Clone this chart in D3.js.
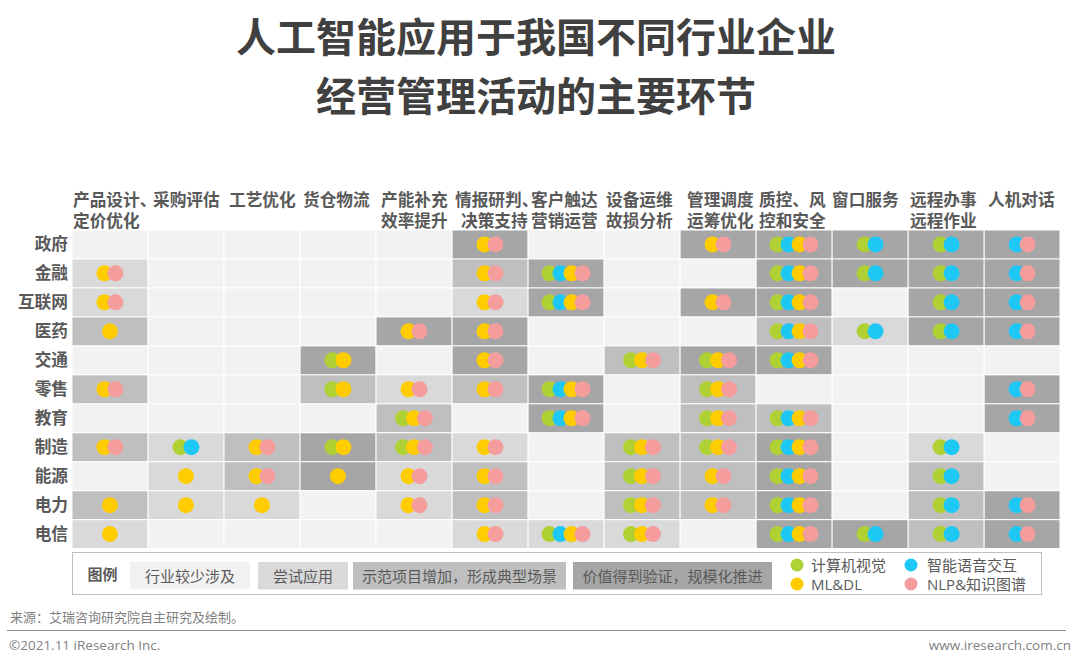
<!DOCTYPE html>
<html>
<head>
<meta charset="utf-8">
<script src="https://cdn.jsdelivr.net/npm/d3@7"></script>
<style>
  html, body { margin: 0; padding: 0; background: #fff; }
  text { font-family: "Open Sans", "Noto Sans CJK SC", sans-serif; }
  .cjk { font-family: "Noto Sans CJK SC", sans-serif; }
</style>
</head>
<body>
<svg id="chart" width="1080" height="664"></svg>
<script>
var titleLines = ["人工智能应用于我国不同行业企业", "经营管理活动的主要环节"];

var industries = ["政府", "金融", "互联网", "医药", "交通", "零售", "教育", "制造", "能源", "电力", "电信"];

// one entry per column, lines and their left edge
var columns = ["c0", "c1", "c2", "c3", "c4", "c5", "c6", "c7", "c8", "c9", "c10", "c11", "c12"];
var columnLabels = [
  ["产品设计、", "定价优化"], ["采购评估"], ["工艺优化"], ["货仓物流"], ["产能补充", "效率提升"],
  ["情报研判、", " 决策支持"], ["客户触达", "营销运营"], ["设备运维", "故损分析"], ["管理调度", "运筹优化"],
  ["质控、风", "控和安全"], ["窗口服务"], ["远程办事", "远程作业"], ["人机对话"]
];

// 0 = 行业较少涉及, 1 = 尝试应用, 2 = 示范项目, 3 = 规模化推进
var levels = [
  [0, 0, 0, 0, 0, 3, 0, 0, 3, 3, 3, 3, 3],
  [1, 0, 0, 0, 0, 2, 3, 0, 0, 3, 3, 3, 3],
  [1, 0, 0, 0, 0, 1, 3, 0, 3, 3, 0, 3, 3],
  [2, 0, 0, 0, 3, 3, 0, 0, 0, 2, 1, 3, 3],
  [0, 0, 0, 3, 0, 3, 0, 2, 3, 3, 0, 0, 0],
  [2, 0, 0, 2, 1, 2, 3, 0, 2, 0, 0, 0, 3],
  [0, 0, 0, 0, 2, 0, 3, 0, 2, 2, 0, 0, 3],
  [2, 1, 2, 3, 2, 1, 0, 2, 2, 3, 0, 1, 0],
  [0, 1, 2, 3, 1, 2, 0, 2, 2, 3, 0, 2, 0],
  [2, 1, 1, 0, 1, 2, 0, 2, 2, 3, 0, 2, 3],
  [1, 0, 0, 0, 0, 1, 1, 1, 0, 3, 3, 2, 3]
];

// G = 计算机视觉, B = 智能语音交互, Y = ML&DL, P = NLP&知识图谱
var techs = [
  ["", "", "", "", "", "YP", "", "", "YP", "GBYP", "GB", "GB", "BP"],
  ["YP", "", "", "", "", "YP", "GBYP", "", "", "GBYP", "GB", "GB", "BP"],
  ["YP", "", "", "", "", "YP", "GBYP", "", "YP", "GBYP", "", "GB", "BP"],
  ["Y", "", "", "", "YP", "YP", "", "", "", "GBYP", "GB", "GB", "BP"],
  ["", "", "", "GY", "", "YP", "", "GYP", "GYP", "GBYP", "", "", ""],
  ["YP", "", "", "GY", "YP", "YP", "GBYP", "", "GYP", "", "", "", "BP"],
  ["", "", "", "", "GYP", "", "GBYP", "", "GYP", "GBYP", "", "", "BP"],
  ["YP", "GB", "YP", "GY", "GYP", "YP", "", "GYP", "GYP", "GBYP", "", "GB", ""],
  ["", "Y", "YP", "Y", "YP", "YP", "", "GYP", "YP", "GBYP", "", "GB", ""],
  ["Y", "Y", "Y", "", "YP", "YP", "", "GYP", "YP", "GBYP", "", "GB", "BP"],
  ["Y", "", "", "", "", "YP", "GBYP", "GYP", "", "GBYP", "GB", "GB", "BP"]
];

var levelLabels = ["行业较少涉及", "尝试应用", "示范项目增加，形成典型场景", "价值得到验证，规模化推进"];
var levelColors = ["#f2f2f2", "#d9d9d9", "#bfbfbf", "#a6a6a6"];

var techKeys = ["G", "B", "Y", "P"];
var techLabels = ["计算机视觉", "智能语音交互", "ML&DL", "NLP&知识图谱"];
var techColors = ["#afd133", "#1ec8f5", "#ffcc00", "#f59c9c"];

var svg = d3.select("#chart");
var textColor = "#595959";

var x = d3.scaleBand().domain(columns).range([72.5, 1059.5]).paddingInner(0.016);
var y = d3.scaleBand().domain(industries).range([230.5, 548]).paddingInner(0.04);
var color = d3.scaleOrdinal().domain(d3.range(4)).range(levelColors);
var techColor = d3.scaleOrdinal().domain(techKeys).range(techColors);

// title
svg.selectAll(".title").data(titleLines).join("text")
  .attr("class", "title cjk")
  .attr("x", 536)
  .attr("y", (d, i) => 52 + i * 59)
  .attr("text-anchor", "middle")
  .attr("font-size", 40)
  .attr("font-weight", 700)
  .attr("fill", "#404040")
  .text(d => d);

// column headers, their left edges do not quite follow the cells
var headerLeft = [73, 153, 229, 303, 381, 455, 531, 606, 687, 759, 832, 910, 988];
columnLabels.forEach((lines, c) => {
  var label = svg.append("text")
    .attr("class", "cjk")
    .attr("font-size", 16.7)
    .attr("font-weight", 700)
    .attr("fill", textColor);
  lines.forEach((line, i) => {
    label.append("tspan")
      .attr("x", headerLeft[c] + (line[0] == " " ? 6 : 0))
      .attr("y", 206 + i * 20.5)
      .text(line.trim());
  });
});

// row labels
svg.selectAll(".row-label").data(industries).join("text")
  .attr("class", "row-label cjk")
  .attr("x", 68)
  .attr("y", d => y(d) + y.bandwidth() / 2 + 6)
  .attr("text-anchor", "end")
  .attr("font-size", 16.7)
  .attr("font-weight", 700)
  .attr("fill", textColor)
  .text(d => d);

// cells and dots
var dotStep = d3.scalePoint().domain(d3.range(4)).range([0, 33]);
industries.forEach((name, r) => {
  columns.forEach((col, c) => {
    svg.append("rect")
      .attr("x", x(col))
      .attr("y", y(name))
      .attr("width", x.bandwidth())
      .attr("height", y.bandwidth())
      .attr("fill", color(levels[r][c]));

    var keys = techs[r][c].split("");
    var cx = x(col) + x.bandwidth() / 2;
    var offset = dotStep(keys.length - 1) / 2;
    keys.forEach((k, i) => {
      svg.append("circle")
        .attr("cx", cx - offset + dotStep(i))
        .attr("cy", y(name) + y.bandwidth() / 2)
        .attr("r", 8)
        .attr("fill", techColor(k));
    });
  });
});

// legend
svg.append("rect")
  .attr("x", 72.5).attr("y", 552.5)
  .attr("width", 969).attr("height", 42)
  .attr("fill", "#fff")
  .attr("stroke", "#bfbfbf");

svg.append("text")
  .attr("class", "cjk")
  .attr("x", 87.5).attr("y", 580)
  .attr("font-size", 15).attr("font-weight", 700)
  .attr("fill", textColor)
  .text("图例");

var swatchLeft = [130, 258, 353, 573];
var swatchRight = [250, 348, 566, 772];
levelLabels.forEach((label, i) => {
  svg.append("rect")
    .attr("x", swatchLeft[i]).attr("y", 562)
    .attr("width", swatchRight[i] - swatchLeft[i]).attr("height", 27.5)
    .attr("fill", levelColors[i]);
  svg.append("text")
    .attr("class", "cjk")
    .attr("x", (swatchLeft[i] + swatchRight[i]) / 2).attr("y", 581.5)
    .attr("text-anchor", "middle")
    .attr("font-size", 15)
    .attr("fill", textColor)
    .text(label);
});

var legendX = [797, 911];
var legendY = [565, 584];
techLabels.forEach((label, i) => {
  var lx = legendX[i % 2], ly = legendY[i < 2 ? 0 : 1];
  svg.append("circle")
    .attr("cx", lx).attr("cy", ly).attr("r", 6.5)
    .attr("fill", techColors[i]);
  svg.append("text")
    .attr("x", lx + (i % 2 ? 16 : 14)).attr("y", ly + 5.5)
    .attr("font-size", 15)
    .attr("fill", textColor)
    .text(label);
});

// footer
svg.append("text")
  .attr("class", "cjk")
  .attr("x", 10).attr("y", 622)
  .attr("font-size", 13)
  .attr("fill", "#7f7f7f")
  .text("来源：艾瑞咨询研究院自主研究及绘制。");

svg.append("line")
  .attr("x1", 7).attr("x2", 1066)
  .attr("y1", 630.5).attr("y2", 630.5)
  .attr("stroke", "#8c8c8c")
  .attr("stroke-width", 1);

svg.append("text")
  .attr("x", 9).attr("y", 650)
  .attr("font-size", 13.5)
  .attr("fill", "#7f7f7f")
  .text("©2021.11 iResearch Inc.");

svg.append("text")
  .attr("x", 1071).attr("y", 650)
  .attr("text-anchor", "end")
  .attr("font-size", 13.5)
  .attr("fill", "#7f7f7f")
  .text("www.iresearch.com.cn");
</script>
</body>
</html>
